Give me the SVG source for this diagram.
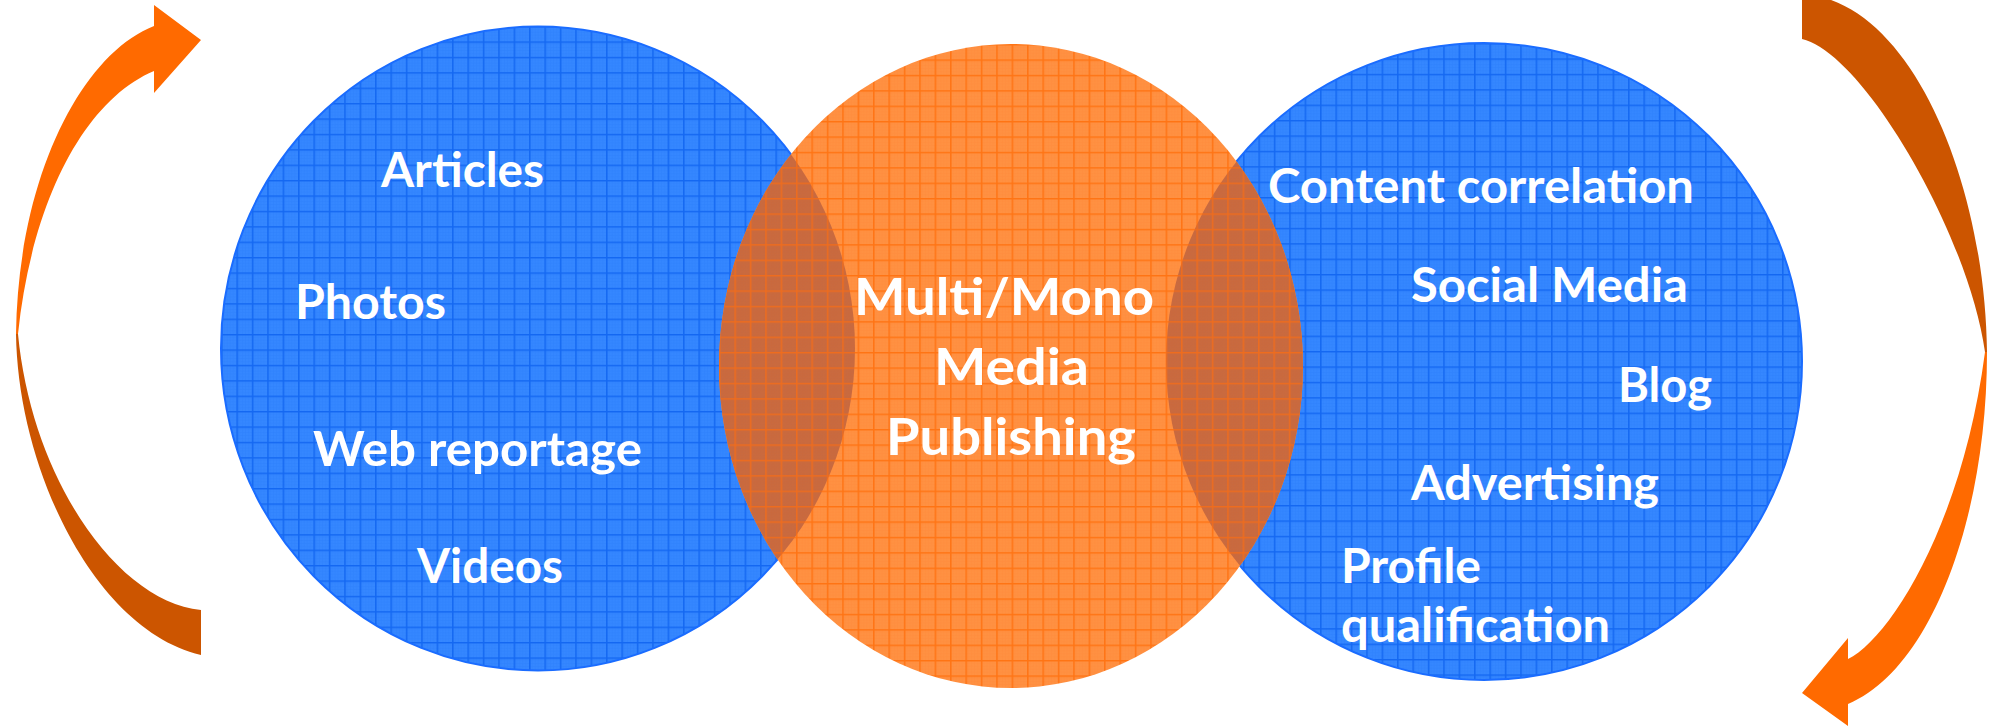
<svg xmlns="http://www.w3.org/2000/svg" width="1993" height="727" viewBox="0 0 1993 727">
  <style>
    .lbl { font-family: Lato, "Open Sans", "DejaVu Sans", sans-serif; font-weight: 700; fill: #FFFFFF; }
    .side { font-size: 47px; }
    .mid { font-size: 51px; }
    .bright { fill: #FF6A00; }
    .dark { fill: #CC5500; }
  </style>
  <defs>
    <!-- blue grid fill, anchored to the left circle -->
    <pattern id="gridBlueL" patternUnits="userSpaceOnUse" x="221" y="26" width="15.4" height="15.4">
      <rect width="15.4" height="15.4" fill="#3587FF"/>
      <path d="M3.08 0V15.4M6.16 0V15.4M9.24 0V15.4M12.32 0V15.4M0 3.08H15.4M0 6.16H15.4M0 9.24H15.4M0 12.32H15.4" stroke="#1F72F5" stroke-width="0.6" opacity="0.3"/>
      <path d="M0.8 0V15.4M0 0.8H15.4" stroke="#1468F2" stroke-width="1.5"/>
    </pattern>
    <!-- blue grid fill, anchored to the right circle -->
    <pattern id="gridBlueR" patternUnits="userSpaceOnUse" x="1166" y="43" width="15.4" height="15.4">
      <rect width="15.4" height="15.4" fill="#3587FF"/>
      <path d="M3.08 0V15.4M6.16 0V15.4M9.24 0V15.4M12.32 0V15.4M0 3.08H15.4M0 6.16H15.4M0 9.24H15.4M0 12.32H15.4" stroke="#1F72F5" stroke-width="0.6" opacity="0.3"/>
      <path d="M0.8 0V15.4M0 0.8H15.4" stroke="#1468F2" stroke-width="1.5"/>
    </pattern>
    <!-- orange grid fill -->
    <pattern id="gridOrange" patternUnits="userSpaceOnUse" x="719" y="44" width="15.4" height="15.4">
      <rect width="15.4" height="15.4" fill="#FF9142"/>
      <path d="M3.08 0V15.4M6.16 0V15.4M9.24 0V15.4M12.32 0V15.4M0 3.08H15.4M0 6.16H15.4M0 9.24H15.4M0 12.32H15.4" stroke="#FF8030" stroke-width="0.6" opacity="0.3"/>
      <path d="M0.8 0V15.4M0 0.8H15.4" stroke="#FF7414" stroke-width="1.5"/>
    </pattern>
    <!-- overlap (brown) grid fill -->
    <pattern id="gridOverlap" patternUnits="userSpaceOnUse" x="719" y="44" width="15.4" height="15.4">
      <rect width="15.4" height="15.4" fill="#C8693F"/>
      <path d="M3.08 0V15.4M6.16 0V15.4M9.24 0V15.4M12.32 0V15.4M0 3.08H15.4M0 6.16H15.4M0 9.24H15.4M0 12.32H15.4" stroke="#D06A35" stroke-width="0.6" opacity="0.3"/>
      <path d="M0.8 0V15.4M0 0.8H15.4" stroke="#EE6C1E" stroke-width="1.5"/>
    </pattern>
    <clipPath id="clipLeft">
      <ellipse cx="538" cy="348.5" rx="317" ry="322"/>
    </clipPath>
    <clipPath id="clipRight">
      <ellipse cx="1484" cy="361.5" rx="318" ry="318.5"/>
    </clipPath>
  </defs>

  <rect width="1993" height="727" fill="#FFFFFF"/>

  <!-- cycle arrows -->
  <g id="connectors">
    <g id="arrow-left">
      <path class="bright" d="M16,334 C18,180 80,55 154,26 L154,5 L201,40 L154,93 L154,71 C85,100 32,200 18,334 Z"/>
      <path class="dark" d="M16,334 C18,470 95,630 201,655 L201,610 C118,602 32,480 18,334 Z"/>
    </g>
    <g id="arrow-right">
      <path class="dark" d="M1802,-6 C1910,0 1985,180 1987,352 L1985,352 C1968,232 1862,52 1802,39 Z"/>
      <path class="bright" d="M1987,352 C1987,520 1930,670 1848,704 L1848,726 L1802,693 L1848,638 L1848,659 C1888,640 1962,528 1985,352 Z"/>
    </g>
  </g>

  <!-- left circle: source content -->
  <g id="node-content">
    <ellipse cx="538" cy="348.5" rx="317" ry="322" fill="url(#gridBlueL)" stroke="#1A6CFF" stroke-width="2"/>
  </g>

  <!-- right circle: distribution -->
  <g id="node-distribution">
    <ellipse cx="1484" cy="361.5" rx="318" ry="318.5" fill="url(#gridBlueR)" stroke="#1A6CFF" stroke-width="2"/>
  </g>

  <!-- centre circle: publishing, with its two overlaps -->
  <g id="node-publishing">
    <ellipse cx="1011" cy="366" rx="292" ry="322" fill="url(#gridOrange)"/>
    <ellipse cx="1011" cy="366" rx="292" ry="322" fill="url(#gridOverlap)" clip-path="url(#clipLeft)"/>
    <ellipse cx="1011" cy="366" rx="292" ry="322" fill="url(#gridOverlap)" clip-path="url(#clipRight)"/>
  </g>

  <!-- labels -->
  <g id="labels-content" class="lbl side">
    <text x="381" y="187" textLength="163" lengthAdjust="spacingAndGlyphs">Articles</text>
    <text x="295" y="319" textLength="151" lengthAdjust="spacingAndGlyphs">Photos</text>
    <text x="313" y="466" textLength="329" lengthAdjust="spacingAndGlyphs">Web reportage</text>
    <text x="417" y="583" textLength="146" lengthAdjust="spacingAndGlyphs">Videos</text>
  </g>
  <g id="labels-publishing" class="lbl mid">
    <text x="854" y="315" textLength="300" lengthAdjust="spacingAndGlyphs">Multi/Mono</text>
    <text x="934" y="385" textLength="155" lengthAdjust="spacingAndGlyphs">Media</text>
    <text x="886" y="455" textLength="250" lengthAdjust="spacingAndGlyphs">Publishing</text>
  </g>
  <g id="labels-distribution" class="lbl side">
    <text x="1268" y="203" textLength="426" lengthAdjust="spacingAndGlyphs">Content correlation</text>
    <text x="1411" y="302" textLength="277" lengthAdjust="spacingAndGlyphs">Social Media</text>
    <text x="1618" y="402" textLength="94" lengthAdjust="spacingAndGlyphs">Blog</text>
    <text x="1411" y="500" textLength="248" lengthAdjust="spacingAndGlyphs">Advertising</text>
    <text x="1341" y="583" textLength="140" lengthAdjust="spacingAndGlyphs">Profile</text>
    <text x="1341" y="642" textLength="269" lengthAdjust="spacingAndGlyphs">qualification</text>
  </g>
</svg>
